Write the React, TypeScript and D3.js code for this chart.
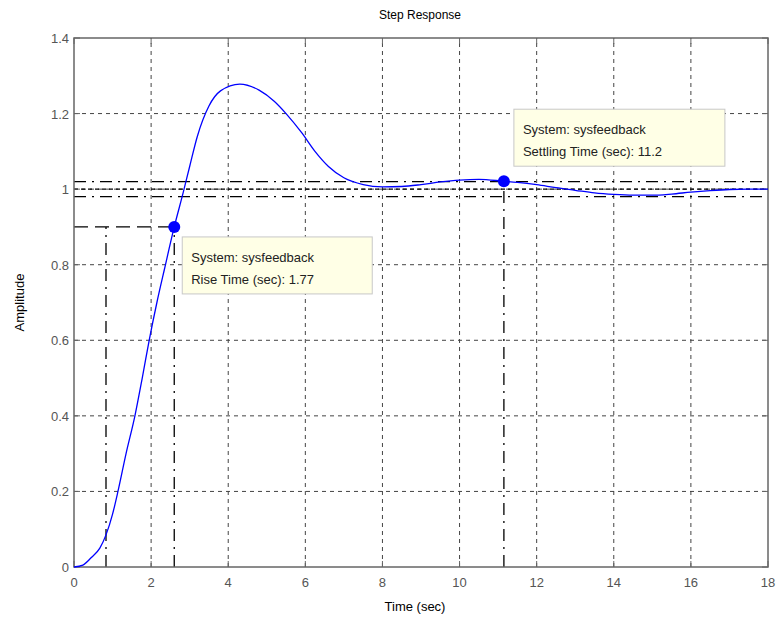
import React, { useEffect, useRef } from 'react'
import * as d3 from 'd3'

// step response (t in sec, amplitude)
const times = [0, 0.23, 0.45, 0.67, 0.83, 1.0, 1.14, 1.35, 1.58, 1.77, 1.95, 2.15, 2.35, 2.6, 2.83, 3.0, 3.2, 3.5, 3.8, 4.3, 4.8, 5.2, 5.5, 5.9, 6.25, 6.6, 7.0, 7.5, 8.0, 8.5, 9.0, 9.5, 10.0, 10.5, 11.15, 11.5, 12.0, 12.5, 13.0, 13.5, 14.0, 14.5, 15.0, 15.5, 16.0, 16.5, 17.0, 17.5, 18.0]
const amplitude = [0, 0.005, 0.025, 0.05, 0.085, 0.14, 0.2, 0.3, 0.4, 0.5, 0.6, 0.7, 0.79, 0.9, 0.99, 1.06, 1.14, 1.22, 1.26, 1.278, 1.262, 1.232, 1.2, 1.15, 1.1, 1.06, 1.03, 1.012, 1.006, 1.007, 1.012, 1.019, 1.024, 1.026, 1.021, 1.018, 1.012, 1.004, 0.997, 0.99, 0.986, 0.984, 0.984, 0.987, 0.992, 0.996, 0.999, 1.0, 1.0]

const xTicks = [0, 2, 4, 6, 8, 10, 12, 14, 16, 18]
const yTicks = [0, 0.2, 0.4, 0.6, 0.8, 1, 1.2, 1.4]

const riseStart = 0.83
const riseEnd = 2.6
const riseLevel = 0.9
const settleTime = 11.15
const settleValue = 1.021
const bandHigh = 1.02
const bandLow = 0.98
const steady = 1.0

const riseLines = ['System: sysfeedback', 'Rise Time (sec): 1.77']
const settleLines = ['System: sysfeedback', 'Settling Time (sec): 11.2']

const W = 777
const H = 625
const margin = { left: 74, right: 9, top: 38, bottom: 58 }

export default function App () {
  const ref = useRef<SVGSVGElement>(null)

  useEffect(() => {
    const svg = d3.select(ref.current)
    svg.selectAll('*').remove()

    const x = d3.scaleLinear().domain([0, 18]).range([margin.left, W - margin.right])
    const y = d3.scaleLinear().domain([0, 1.4]).range([H - margin.bottom, margin.top])
    const font = 'Liberation Sans, Arial, sans-serif'

    svg.append('rect').attr('width', W).attr('height', H).attr('fill', '#fff')

    // grid
    const grid = svg.append('g').attr('stroke', '#444').attr('stroke-width', 1).attr('stroke-dasharray', '4,4')
    grid.selectAll('.gx').data(xTicks.slice(1, -1)).enter().append('line')
      .attr('x1', d => x(d)).attr('x2', d => x(d))
      .attr('y1', y(0)).attr('y2', y(1.4))
    grid.selectAll('.gy').data(yTicks.slice(1, -1)).enter().append('line')
      .attr('x1', x(0)).attr('x2', x(18))
      .attr('y1', d => y(d)).attr('y2', d => y(d))

    // characteristic lines
    const marks = svg.append('g').attr('stroke', '#000').attr('stroke-width', 1.3).attr('fill', 'none')
    const dashDot = '12,6,2,6'
    const longDash = '14,7'
    marks.append('line').attr('x1', x(0)).attr('x2', x(riseEnd)).attr('y1', y(riseLevel)).attr('y2', y(riseLevel)).attr('stroke-dasharray', longDash)
    marks.append('line').attr('x1', x(riseStart)).attr('x2', x(riseStart)).attr('y1', y(0)).attr('y2', y(riseLevel)).attr('stroke-dasharray', dashDot)
    marks.append('line').attr('x1', x(riseEnd)).attr('x2', x(riseEnd)).attr('y1', y(0)).attr('y2', y(riseLevel)).attr('stroke-dasharray', dashDot)
    marks.append('line').attr('x1', x(settleTime)).attr('x2', x(settleTime)).attr('y1', y(0)).attr('y2', y(settleValue)).attr('stroke-dasharray', dashDot)
    marks.selectAll('.band').data([bandHigh, bandLow]).enter().append('line')
      .attr('x1', x(0)).attr('x2', x(18))
      .attr('y1', d => y(d)).attr('y2', d => y(d))
      .attr('stroke-dasharray', dashDot)
    marks.append('line').attr('x1', x(0)).attr('x2', x(18)).attr('y1', y(steady)).attr('y2', y(steady)).attr('stroke-dasharray', '4,3')

    // axes box and ticks
    svg.append('rect')
      .attr('x', x(0)).attr('y', y(1.4))
      .attr('width', x(18) - x(0)).attr('height', y(0) - y(1.4))
      .attr('fill', 'none').attr('stroke', '#666').attr('stroke-width', 1.5)
    const ticks = svg.append('g').attr('stroke', '#666').attr('stroke-width', 1)
    xTicks.forEach(t => {
      ticks.append('line').attr('x1', x(t)).attr('x2', x(t)).attr('y1', y(0)).attr('y2', y(0) - 6)
      ticks.append('line').attr('x1', x(t)).attr('x2', x(t)).attr('y1', y(1.4)).attr('y2', y(1.4) + 6)
    })
    yTicks.forEach(t => {
      ticks.append('line').attr('x1', x(0)).attr('x2', x(0) + 6).attr('y1', y(t)).attr('y2', y(t))
      ticks.append('line').attr('x1', x(18)).attr('x2', x(18) - 6).attr('y1', y(t)).attr('y2', y(t))
    })

    const labels = svg.append('g').attr('font-family', font).attr('font-size', 13).attr('fill', '#555')
    labels.selectAll('.xl').data(xTicks).enter().append('text')
      .attr('x', d => x(d)).attr('y', y(0) + 20).attr('text-anchor', 'middle').text(d => d)
    labels.selectAll('.yl').data(yTicks).enter().append('text')
      .attr('x', x(0) - 5).attr('y', d => y(d) + 5).attr('text-anchor', 'end').text(d => d)

    // response curve
    const line = d3.line<number>()
      .x((d, i) => x(times[i]))
      .y(d => y(d))
      .curve(d3.curveMonotoneX)
    svg.append('path').datum(amplitude).attr('d', line)
      .attr('fill', 'none').attr('stroke', '#0000ff').attr('stroke-width', 1.3)

    svg.selectAll('.dot').data([[riseEnd, riseLevel], [settleTime, settleValue]]).enter().append('circle')
      .attr('cx', d => x(d[0])).attr('cy', d => y(d[1])).attr('r', 6).attr('fill', '#0000ff')

    // data tips
    const tip = (bx: number, by: number, bw: number, lines: string[]) => {
      const g = svg.append('g')
      g.append('rect').attr('x', bx).attr('y', by).attr('width', bw).attr('height', 57)
        .attr('fill', '#ffffe6').attr('stroke', '#c8c8c8').attr('stroke-width', 1)
      g.selectAll('text').data(lines).enter().append('text')
        .attr('x', bx + 9).attr('y', (d, i) => by + 25 + i * 22)
        .attr('font-family', font).attr('font-size', 13).attr('fill', '#222').text(d => d)
    }
    tip(x(riseEnd) + 8, y(riseLevel) + 10, 190, riseLines)
    tip(x(settleTime) + 10, y(settleValue) - 72, 211, settleLines)

    svg.append('text').attr('x', 420).attr('y', 19).attr('text-anchor', 'middle')
      .attr('font-family', font).attr('font-size', 12).attr('fill', '#000').text('Step Response')
    svg.append('text').attr('x', 415).attr('y', 611).attr('text-anchor', 'middle')
      .attr('font-family', font).attr('font-size', 13).attr('fill', '#000').text('Time (sec)')
    svg.append('text').attr('transform', `translate(24,${(y(0) + y(1.4)) / 2}) rotate(-90)`)
      .attr('text-anchor', 'middle').attr('font-family', font).attr('font-size', 13).attr('fill', '#000').text('Amplitude')
  }, [])

  return <svg ref={ref} width={W} height={H} style={{ position: 'absolute', left: 0, top: 0 }} />
}
